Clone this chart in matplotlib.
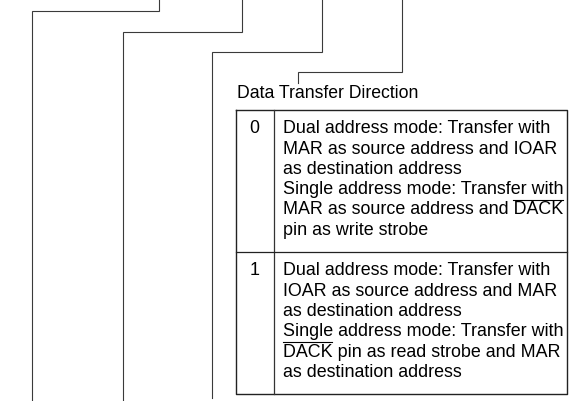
import matplotlib
matplotlib.use("Agg")
import matplotlib.pyplot as plt

title = "Data Transfer Direction"
bit_values = ["0", "1"]
descriptions = [
    ["Dual address mode: Transfer with",
     "MAR as source address and IOAR",
     "as destination address",
     "Single address mode: Transfer with",
     "MAR as source address and |DACK|",
     "pin as write strobe"],
    ["Dual address mode: Transfer with",
     "IOAR as source address and MAR",
     "as destination address",
     "Single address mode: Transfer with",
     "|DACK| pin as read strobe and MAR",
     "as destination address"],
]

# leader lines: (top x, elbow y, bottom x, bottom y)
leaders = [(158.5, 11, 31.7, 401), (242, 32.3, 122.8, 401),
           (322, 52.3, 211.5, 398.3), (401.7, 72.3, 298, 82.7)]

W, H = 571, 401
fig = plt.figure(figsize=(W / 100, H / 100), dpi=100)
ax = fig.add_axes([0, 0, 1, 1])
ax.set_xlim(0, W)
ax.set_ylim(H, 0)
ax.axis("off")

FONT = "Liberation Sans"
FS_TITLE = 12.7
FS = 12.9

for tx, ey, bx, by in leaders:
    ax.plot([tx, tx, bx, bx], [0, ey, ey, by], color="#3a3a3a", lw=0.8,
            solid_joinstyle="miter")

ax.text(237.3, 98.3, title, fontsize=FS_TITLE, family=FONT, va="baseline",
        ha="left", color="black")

# table
left, right, top, bottom = 235.7, 567, 110, 394.3
col = 274.3
row_h = (bottom - top) / len(bit_values)
ax.plot([left, right, right, left, left], [top, top, bottom, bottom, top],
        color="#222222", lw=1.0)
ax.plot([col, col], [top, bottom], color="#333333", lw=0.9)
for i in range(1, len(bit_values)):
    y = top + i * row_h
    ax.plot([left, right], [y, y], color="#222222", lw=0.9)

fig.canvas.draw()
renderer = fig.canvas.get_renderer()


def text_width(s):
    t = ax.text(0, 0, s, fontsize=FS, family=FONT)
    w = t.get_window_extent(renderer).width
    t.remove()
    return w


spacing = 20.3
tx0 = 282.7
for i, (val, lines) in enumerate(zip(bit_values, descriptions)):
    y0 = top + i * row_h + 23.3
    ax.text(254.5, y0, val, fontsize=FS, family=FONT, va="baseline",
            ha="center", color="black")
    for j, line in enumerate(lines):
        y = y0 + j * spacing
        if "|" in line:
            pre, mid, post = line.split("|")
            ax.text(tx0, y, pre + mid + post, fontsize=FS, family=FONT,
                    va="baseline", ha="left", color="black")
            x1 = tx0 + text_width(pre + "x") - text_width("x")
            x2 = x1 + text_width(mid)
            oy = y - 14.3
            ax.plot([x1, x2], [oy, oy], color="black", lw=0.8)
        else:
            ax.text(tx0, y, line, fontsize=FS, family=FONT, va="baseline",
                    ha="left", color="black")

fig.savefig("out.png", dpi=100)
